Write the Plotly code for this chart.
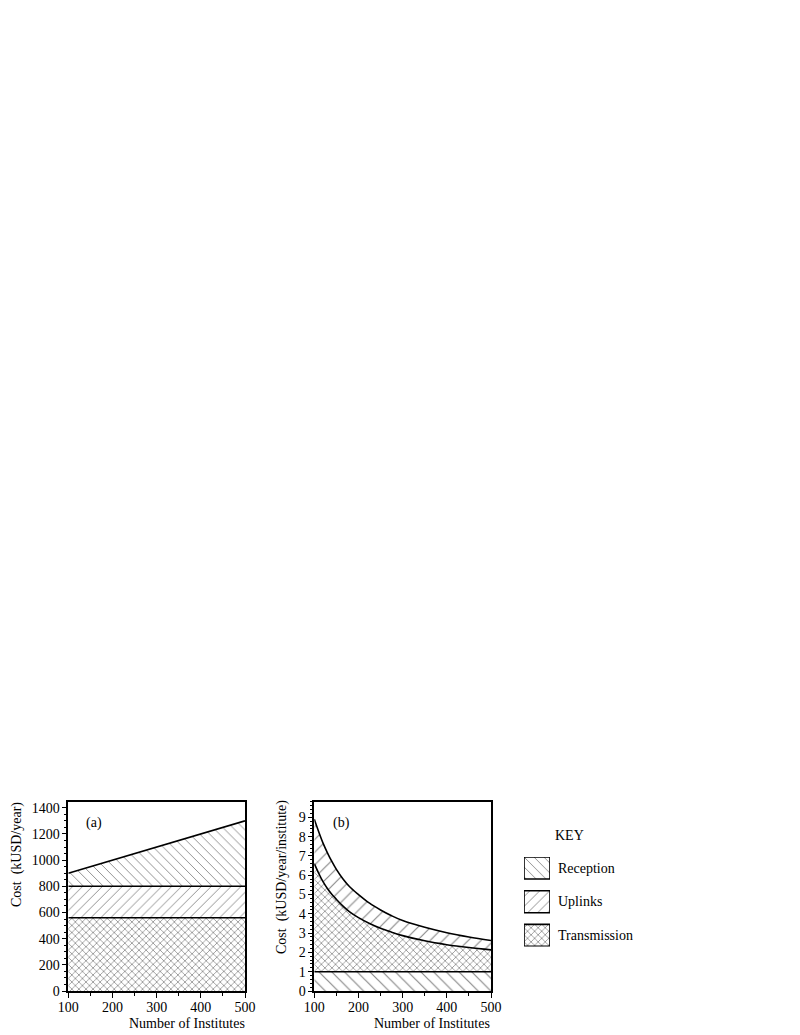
import plotly.graph_objects as go

W, H = 800, 1035
FONT = "Liberation Serif"
FS = 14
OFF = 8  # the page body margin shifts the figure by this many pixels

# panel (a): total cost, stacked boundaries (kUSD/year)
institutes_a = [100, 200, 300, 400, 500]
transmission_top_a = [560, 560, 560, 560, 560]
uplinks_top_a = [800, 800, 800, 800, 800]
reception_top_a = [900, 1000, 1100, 1200, 1300]

# panel (b): cost per institute, stacked boundaries (kUSD/year/institute)
institutes_b = [100, 110, 120, 130, 140, 150, 165, 180, 200, 225, 250, 275, 300, 350, 400, 450, 500]
reception_top_b = [1, 1, 1, 1, 1, 1, 1, 1, 1, 1, 1, 1, 1, 1, 1, 1, 1]
transmission_top_b = [6.6, 6.1, 5.65, 5.3, 5.0, 4.75, 4.4, 4.1, 3.8, 3.5, 3.25, 3.05, 2.87,
                      2.6, 2.4, 2.25, 2.13]
uplinks_top_b = [8.9, 8.25, 7.65, 7.15, 6.7, 6.3, 5.8, 5.4, 5.0, 4.55, 4.2, 3.9, 3.65,
                 3.3, 3.02, 2.8, 2.62]

key_labels = ["Reception", "Uplinks", "Transmission"]
key_shapes = ["\\", "/", "x"]


def px_x(p):
    return (p - OFF) / W


def px_y(p):
    return 1 - (p - OFF) / H


def pattern(shape, size):
    sol = 0.28 if shape == "x" else 0.13
    return dict(shape=shape, fgcolor="#111", bgcolor="white", size=size, solidity=sol)


line = dict(color="black", width=1.6)
fig = go.Figure()

# (a)
fig.add_trace(go.Scatter(x=institutes_a, y=transmission_top_a, mode="lines", line=line,
                         fill="tozeroy", fillcolor="white", fillpattern=pattern("x", 5),
                         xaxis="x", yaxis="y", showlegend=False))
fig.add_trace(go.Scatter(x=institutes_a, y=uplinks_top_a, mode="lines", line=line,
                         fill="tonexty", fillcolor="white", fillpattern=pattern("/", 7),
                         xaxis="x", yaxis="y", showlegend=False))
fig.add_trace(go.Scatter(x=institutes_a, y=reception_top_a, mode="lines", line=line,
                         fill="tonexty", fillcolor="white", fillpattern=pattern("\\", 7),
                         xaxis="x", yaxis="y", showlegend=False))

# (b)
fig.add_trace(go.Scatter(x=institutes_b, y=reception_top_b, mode="lines", line=line,
                         fill="tozeroy", fillcolor="white", fillpattern=pattern("\\", 9),
                         xaxis="x2", yaxis="y2", showlegend=False))
fig.add_trace(go.Scatter(x=institutes_b, y=transmission_top_b, mode="lines",
                         line=dict(color="black", width=1.6, shape="spline"),
                         fill="tonexty", fillcolor="white", fillpattern=pattern("x", 5),
                         xaxis="x2", yaxis="y2", showlegend=False))
fig.add_trace(go.Scatter(x=institutes_b, y=uplinks_top_b, mode="lines",
                         line=dict(color="black", width=1.6, shape="spline"),
                         fill="tonexty", fillcolor="white", fillpattern=pattern("/", 9),
                         xaxis="x2", yaxis="y2", showlegend=False))

# key swatches on a hidden pixel-unit axis
box_top0, box_h, box_gap = 857, 22, 33.7
for i, (lab, shp) in enumerate(zip(key_labels, key_shapes)):
    t = box_top0 + i * box_gap
    b = t + box_h
    fig.add_trace(go.Scatter(x=[0, 1, 1, 0, 0], y=[b, b, t, t, b], mode="lines",
                             line=dict(color="black", width=1.6), fill="toself",
                             fillcolor="white", fillpattern=pattern(shp, 7 if shp != "x" else 5),
                             xaxis="x3", yaxis="y3", showlegend=False, hoverinfo="skip"))
    fig.add_annotation(text=lab, x=px_x(556), y=px_y(t + box_h / 2),
                       xanchor="left", yanchor="middle")

ydom = [px_y(991), px_y(801.7)]
ax_common = dict(showline=True, linecolor="black", linewidth=1.5, mirror=True, showgrid=False,
                 zeroline=False, ticks="outside", ticklen=5, tickwidth=1.3, tickcolor="black",
                 tickfont=dict(size=FS, color="black"), automargin=False)
minor_x = dict(dtick=50, ticks="outside", ticklen=3, tickcolor="black", showgrid=False)

fig.update_layout(
    width=W, height=H, autosize=False,
    margin=dict(l=0, r=0, t=0, b=0),
    paper_bgcolor="white", plot_bgcolor="white",
    font=dict(family=FONT, size=FS, color="black"),
    xaxis=dict(domain=[px_x(68.3), px_x(245)], range=[100, 500], dtick=100, anchor="y",
               minor=minor_x, ticklabelstandoff=-3, **ax_common),
    yaxis=dict(domain=ydom, range=[0, 1446], dtick=200, anchor="x",
               minor=minor_x, ticklabelstandoff=-1, **ax_common),
    xaxis2=dict(domain=[px_x(314.3), px_x(491)], range=[100, 500], dtick=100, anchor="y2",
                minor=minor_x, ticklabelstandoff=-3, **ax_common),
    yaxis2=dict(domain=ydom, range=[0, 9.81], dtick=1, anchor="x2",
                minor=dict(dtick=0.2, ticks="outside", ticklen=3, tickcolor="black",
                           showgrid=False), ticklabelstandoff=-1, **ax_common),
    xaxis3=dict(domain=[px_x(524), px_x(550)], range=[0, 1], visible=False, anchor="y3",
                fixedrange=True, automargin=False),
    yaxis3=dict(domain=[px_y(box_top0 + 2 * box_gap + box_h), px_y(box_top0)],
                range=[box_top0 + 2 * box_gap + box_h, box_top0], visible=False, anchor="x3",
                fixedrange=True, automargin=False),
)

# axis titles and panel labels
fig.add_annotation(text="Cost  (kUSD/year)", x=px_x(17), y=px_y(855), textangle=-90)
fig.add_annotation(text="Cost  (kUSD/year/institute)", x=px_x(282), y=px_y(877), textangle=-90)
fig.add_annotation(text="Number of Institutes", x=px_x(187), y=px_y(1023))
fig.add_annotation(text="Number of Institutes", x=px_x(432), y=px_y(1023))
fig.add_annotation(text="(a)", x=px_x(94), y=px_y(823))
fig.add_annotation(text="(b)", x=px_x(341), y=px_y(823))
fig.add_annotation(text="KEY", x=px_x(569), y=px_y(835))
for a in fig.layout.annotations:
    a.xref = "paper"
    a.yref = "paper"
    a.showarrow = False
    a.yanchor = "middle"
    if a.xanchor != "left":
        a.xanchor = "center"
    a.font = dict(size=FS, family=FONT, color="black")

fig.write_html("out.html")
